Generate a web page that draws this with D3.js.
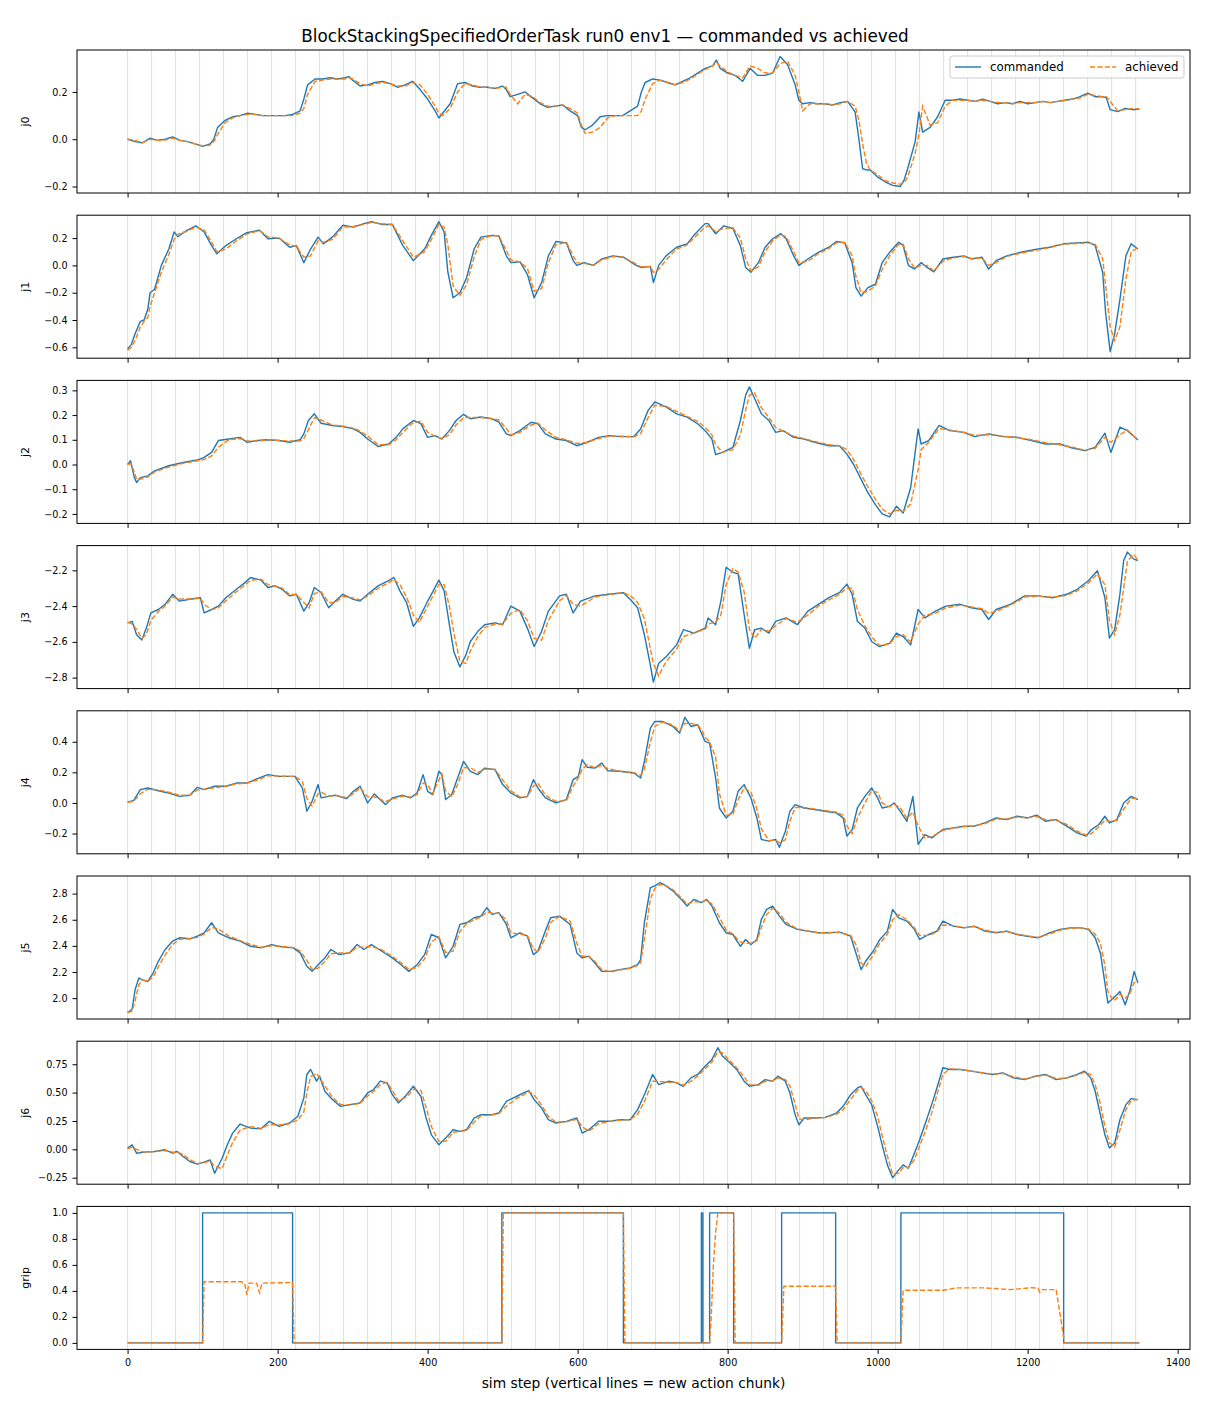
<!DOCTYPE html>
<html>
<head>
<meta charset="utf-8">
<script src="https://cdn.jsdelivr.net/npm/d3@7"></script>
<style>
  body { margin: 0; background: #fff; }
  svg { font-family: "DejaVu Sans", sans-serif; }
</style>
</head>
<body>
<svg id="chart"></svg>
<script>
// commanded vs achieved joint trajectories, one panel per joint + gripper
// values (sim step -> joint value)

const j0Steps = [0,10,20,30,40,50,60,70,80,90,
  100,110,115,120,130,140,150,160,170,180,
  190,200,210,220,230,235,240,250,260,270,
  280,290,295,300,310,320,330,340,350,360,
  370,380,390,400,410,415,420,430,440,450,
  460,470,480,490,500,505,510,520,530,540,
  550,560,570,580,590,600,605,610,620,630,
  640,650,660,670,680,685,690,700,710,720,
  730,740,750,760,770,780,785,790,800,810,
  820,830,840,850,860,870,880,890,895,900,
  910,920,930,940,950,960,970,975,980,985,
  990,1000,1010,1020,1030,1035,1040,1050,1055,1060,
  1070,1080,1090,1100,1110,1120,1130,1140,1150,1160,
  1170,1180,1190,1200,1210,1220,1230,1240,1250,1260,
  1270,1280,1290,1300,1305,1310,1320,1330,1340,1349];
const j0Cmd = [0.0,-0.01,-0.015,0.005,-0.005,0.0,0.01,-0.005,-0.01,-0.02,
  -0.03,-0.02,0.0,0.05,0.08,0.095,0.10,0.11,0.105,0.10,
  0.10,0.10,0.10,0.105,0.12,0.17,0.23,0.255,0.255,0.26,
  0.255,0.26,0.265,0.25,0.225,0.23,0.24,0.245,0.235,0.22,
  0.23,0.245,0.21,0.17,0.12,0.09,0.11,0.15,0.235,0.24,
  0.225,0.22,0.22,0.215,0.225,0.21,0.18,0.19,0.20,0.175,
  0.15,0.135,0.14,0.145,0.12,0.10,0.05,0.04,0.06,0.095,
  0.10,0.10,0.10,0.12,0.14,0.2,0.24,0.255,0.25,0.24,
  0.23,0.245,0.26,0.28,0.30,0.31,0.335,0.30,0.28,0.27,
  0.245,0.30,0.27,0.27,0.28,0.35,0.315,0.23,0.165,0.15,
  0.155,0.15,0.15,0.145,0.155,0.16,0.115,0.0,-0.125,-0.13,
  -0.13,-0.16,-0.18,-0.195,-0.2,-0.175,-0.125,-0.01,0.115,0.03,
  0.05,0.095,0.165,0.165,0.17,0.165,0.16,0.17,0.16,0.15,
  0.155,0.15,0.16,0.15,0.155,0.16,0.155,0.16,0.165,0.17,
  0.18,0.195,0.18,0.18,0.175,0.125,0.117,0.13,0.125,0.128];
const j0Ach = [0.0,-0.005,-0.015,0.0,-0.005,-0.003,0.005,-0.005,-0.01,-0.02,
  -0.028,-0.025,-0.01,0.02,0.07,0.09,0.10,0.105,0.105,0.10,
  0.10,0.10,0.10,0.10,0.11,0.13,0.19,0.245,0.25,0.255,
  0.255,0.255,0.26,0.255,0.235,0.225,0.235,0.24,0.235,0.225,
  0.225,0.24,0.23,0.19,0.14,0.11,0.10,0.13,0.2,0.235,
  0.23,0.22,0.22,0.215,0.22,0.22,0.19,0.15,0.19,0.18,
  0.155,0.14,0.14,0.145,0.13,0.11,0.06,0.025,0.03,0.05,
  0.09,0.10,0.10,0.10,0.10,0.12,0.17,0.235,0.25,0.24,
  0.23,0.24,0.255,0.275,0.295,0.31,0.325,0.31,0.285,0.27,
  0.26,0.31,0.30,0.28,0.28,0.32,0.33,0.27,0.2,0.12,
  0.15,0.15,0.15,0.145,0.15,0.16,0.14,0.08,-0.02,-0.1,
  -0.13,-0.15,-0.175,-0.185,-0.19,-0.185,-0.16,-0.06,0.02,0.14,
  0.06,0.07,0.14,0.165,0.165,0.165,0.16,0.165,0.16,0.155,
  0.155,0.15,0.155,0.155,0.155,0.16,0.155,0.16,0.165,0.17,
  0.175,0.19,0.185,0.18,0.18,0.16,0.12,0.125,0.13,0.128];

const j1Steps = [0,5,10,17,22,27,30,36,45,55,
  62,67,79,91,102,112,119,131,145,159,
  176,187,202,216,225,235,244,254,261,273,
  287,301,315,325,339,353,367,381,396,405,
  415,422,427,434,443,452,462,471,486,495,
  505,511,523,533,542,552,561,571,585,594,
  599,609,621,632,647,661,675,684,697,701,
  708,718,732,746,755,770,774,784,795,807,
  817,824,831,841,850,860,871,878,888,895,
  907,921,935,945,956,966,971,978,987,997,
  1006,1016,1028,1034,1041,1049,1058,1066,1075,1087,
  1101,1115,1125,1139,1148,1158,1172,1191,1210,1229,
  1248,1266,1281,1290,1300,1304,1310,1316,1323,1331,
  1338,1347];
const j1Cmd = [-0.61,-0.58,-0.5,-0.41,-0.4,-0.32,-0.2,-0.175,0.0,0.12,
  0.245,0.21,0.257,0.29,0.245,0.145,0.085,0.145,0.195,0.24,
  0.257,0.195,0.2,0.133,0.145,0.02,0.12,0.207,0.158,0.207,
  0.294,0.28,0.306,0.32,0.3,0.3,0.145,0.035,0.12,0.22,
  0.32,0.245,-0.05,-0.237,-0.2,-0.09,0.12,0.207,0.22,0.215,
  0.07,0.02,0.027,-0.065,-0.237,-0.126,0.07,0.175,0.165,0.035,
  0.0,0.02,0.0,0.047,0.07,0.06,0.01,-0.015,-0.007,-0.126,
  0.0,0.07,0.133,0.158,0.22,0.306,0.306,0.232,0.29,0.27,
  0.145,-0.015,-0.05,0.02,0.133,0.195,0.232,0.195,0.07,0.0,
  0.047,0.096,0.133,0.175,0.165,0.02,-0.163,-0.225,-0.163,-0.138,
  0.02,0.096,0.17,0.146,0.0,-0.027,0.02,-0.015,-0.047,0.047,
  0.06,0.07,0.047,0.06,-0.027,0.035,0.07,0.096,0.116,0.133,
  0.158,0.165,0.17,0.146,-0.05,-0.35,-0.632,-0.5,-0.25,0.07,
  0.158,0.12];
const j1Ach = [-0.62,-0.6,-0.55,-0.45,-0.41,-0.38,-0.3,-0.2,-0.05,0.08,
  0.19,0.23,0.25,0.28,0.26,0.17,0.1,0.12,0.18,0.23,
  0.255,0.21,0.2,0.15,0.14,0.06,0.07,0.18,0.17,0.19,
  0.28,0.285,0.3,0.315,0.305,0.3,0.18,0.06,0.1,0.19,
  0.3,0.28,0.15,-0.15,-0.22,-0.14,0.06,0.19,0.22,0.215,
  0.11,0.04,0.025,-0.02,-0.19,-0.17,0.02,0.15,0.17,0.07,
  0.02,0.015,0.0,0.04,0.065,0.06,0.02,-0.01,-0.01,-0.05,
  -0.03,0.04,0.12,0.15,0.2,0.28,0.29,0.25,0.27,0.275,
  0.2,0.05,-0.04,-0.01,0.1,0.18,0.225,0.21,0.1,0.02,
  0.03,0.085,0.125,0.165,0.17,0.07,-0.08,-0.2,-0.19,-0.15,
  -0.03,0.07,0.155,0.155,0.05,-0.02,0.0,0.0,-0.04,0.03,
  0.055,0.065,0.05,0.055,0.0,0.02,0.065,0.09,0.11,0.13,
  0.155,0.16,0.165,0.155,0.05,-0.15,-0.45,-0.55,-0.45,-0.1,
  0.1,0.13];

const j2Steps = [0,4,9,12,17,27,36,55,74,93,
  102,112,121,135,150,159,173,187,202,216,
  230,235,241,249,258,273,287,301,310,320,
  334,348,358,367,381,391,400,410,419,429,
  438,448,457,471,486,495,505,511,523,538,
  547,557,571,585,599,613,628,642,656,675,
  684,694,703,718,732,746,760,770,779,784,
  793,807,817,824,829,836,845,855,864,874,
  888,902,916,935,949,959,968,978,987,997,
  1006,1016,1025,1034,1044,1054,1058,1068,1082,1096,
  1115,1129,1148,1167,1186,1205,1224,1243,1257,1276,
  1290,1303,1311,1323,1333,1347];
const j2Cmd = [0.0,0.015,-0.053,-0.073,-0.053,-0.046,-0.026,-0.005,0.008,0.018,
  0.029,0.049,0.097,0.103,0.11,0.09,0.097,0.1,0.097,0.09,
  0.1,0.124,0.178,0.205,0.167,0.158,0.154,0.144,0.13,0.103,
  0.073,0.083,0.11,0.144,0.178,0.165,0.11,0.117,0.103,0.137,
  0.178,0.203,0.185,0.192,0.185,0.171,0.124,0.117,0.137,0.171,
  0.165,0.124,0.103,0.097,0.076,0.09,0.11,0.117,0.113,0.113,
  0.144,0.219,0.253,0.233,0.205,0.192,0.165,0.137,0.103,0.04,
  0.049,0.069,0.178,0.28,0.314,0.267,0.205,0.178,0.13,0.137,
  0.11,0.103,0.09,0.076,0.076,0.042,0.0,-0.06,-0.114,-0.162,
  -0.2,-0.212,-0.169,-0.196,-0.094,0.144,0.083,0.097,0.158,0.137,
  0.13,0.113,0.124,0.113,0.11,0.097,0.083,0.083,0.069,0.056,
  0.069,0.127,0.049,0.151,0.137,0.099];
const j2Ach = [0.0,0.005,-0.03,-0.06,-0.06,-0.05,-0.03,-0.01,0.005,0.015,
  0.02,0.035,0.07,0.1,0.105,0.095,0.095,0.1,0.097,0.095,
  0.095,0.105,0.14,0.19,0.18,0.16,0.155,0.147,0.135,0.115,
  0.08,0.08,0.1,0.13,0.17,0.175,0.13,0.115,0.105,0.12,
  0.16,0.19,0.19,0.19,0.185,0.18,0.145,0.12,0.13,0.16,
  0.168,0.14,0.11,0.1,0.085,0.09,0.105,0.115,0.115,0.112,
  0.125,0.19,0.24,0.235,0.215,0.195,0.175,0.15,0.12,0.08,
  0.05,0.06,0.12,0.22,0.28,0.29,0.23,0.19,0.15,0.135,
  0.115,0.105,0.093,0.08,0.076,0.06,0.02,-0.04,-0.09,-0.14,
  -0.18,-0.2,-0.185,-0.19,-0.16,-0.02,0.06,0.09,0.145,0.14,
  0.13,0.118,0.12,0.115,0.108,0.1,0.088,0.08,0.072,0.058,
  0.065,0.11,0.09,0.12,0.14,0.1];

const j3Steps = [0,6,12,19,25,31,41,50,60,69,
  83,97,102,112,121,131,145,154,164,178,
  187,197,206,216,225,235,242,249,258,268,
  277,287,301,310,320,334,348,355,363,372,
  381,389,399,405,415,422,429,435,443,451,
  457,467,476,490,500,511,523,533,542,552,
  561,576,585,594,604,623,642,661,670,680,
  689,697,701,708,718,732,741,755,770,774,
  784,791,798,807,814,822,829,836,845,855,
  864,878,893,907,921,935,949,959,966,973,
  983,992,1002,1016,1025,1034,1044,1054,1063,1077,
  1091,1110,1125,1139,1148,1158,1177,1196,1214,1233,
  1252,1266,1281,1293,1303,1309,1316,1323,1328,1333,
  1341,1347];
const j3Cmd = [-2.494,-2.485,-2.56,-2.589,-2.523,-2.438,-2.419,-2.39,-2.334,-2.372,
  -2.362,-2.353,-2.438,-2.419,-2.4,-2.353,-2.306,-2.277,-2.24,-2.255,
  -2.296,-2.287,-2.306,-2.343,-2.334,-2.428,-2.381,-2.296,-2.325,-2.409,
  -2.372,-2.334,-2.362,-2.372,-2.334,-2.287,-2.258,-2.24,-2.315,-2.381,
  -2.513,-2.466,-2.381,-2.334,-2.255,-2.315,-2.504,-2.655,-2.74,-2.674,
  -2.598,-2.541,-2.504,-2.494,-2.504,-2.4,-2.428,-2.523,-2.626,-2.541,
  -2.428,-2.343,-2.334,-2.438,-2.372,-2.343,-2.334,-2.325,-2.362,-2.409,
  -2.56,-2.73,-2.825,-2.72,-2.683,-2.617,-2.532,-2.551,-2.523,-2.466,
  -2.504,-2.372,-2.183,-2.211,-2.22,-2.447,-2.636,-2.532,-2.523,-2.551,
  -2.485,-2.466,-2.504,-2.428,-2.39,-2.353,-2.325,-2.277,-2.334,-2.485,
  -2.523,-2.598,-2.626,-2.608,-2.551,-2.57,-2.617,-2.419,-2.466,-2.428,
  -2.4,-2.39,-2.409,-2.419,-2.475,-2.419,-2.39,-2.343,-2.343,-2.353,
  -2.334,-2.306,-2.258,-2.202,-2.353,-2.579,-2.532,-2.334,-2.145,-2.098,
  -2.136,-2.145];
const j3Ach = [-2.49,-2.5,-2.53,-2.58,-2.56,-2.48,-2.43,-2.4,-2.35,-2.36,
  -2.36,-2.355,-2.39,-2.42,-2.41,-2.37,-2.32,-2.29,-2.255,-2.25,
  -2.28,-2.29,-2.3,-2.335,-2.335,-2.38,-2.41,-2.33,-2.32,-2.38,
  -2.38,-2.345,-2.355,-2.365,-2.345,-2.3,-2.27,-2.25,-2.28,-2.35,
  -2.45,-2.49,-2.41,-2.36,-2.28,-2.28,-2.4,-2.55,-2.71,-2.72,
  -2.65,-2.57,-2.52,-2.5,-2.5,-2.44,-2.42,-2.48,-2.58,-2.59,
  -2.48,-2.37,-2.34,-2.39,-2.4,-2.35,-2.335,-2.325,-2.34,-2.38,
  -2.47,-2.64,-2.72,-2.79,-2.71,-2.64,-2.57,-2.55,-2.53,-2.5,
  -2.49,-2.45,-2.28,-2.19,-2.21,-2.32,-2.53,-2.58,-2.53,-2.54,
  -2.51,-2.47,-2.49,-2.45,-2.4,-2.365,-2.335,-2.3,-2.3,-2.42,
  -2.51,-2.57,-2.62,-2.61,-2.57,-2.56,-2.6,-2.5,-2.45,-2.44,
  -2.41,-2.395,-2.405,-2.415,-2.44,-2.43,-2.395,-2.35,-2.345,-2.35,
  -2.34,-2.315,-2.27,-2.22,-2.28,-2.48,-2.56,-2.45,-2.3,-2.15,
  -2.11,-2.14];

const j4Steps = [0,8,17,27,41,55,69,83,93,102,
  116,131,145,159,173,187,202,216,223,233,
  239,246,254,258,268,277,292,301,310,320,
  329,344,353,367,377,386,394,400,407,415,
  419,424,432,440,448,457,467,476,490,500,
  511,523,533,541,547,557,571,585,594,601,
  606,613,623,632,640,656,675,684,689,697,
  703,713,727,736,743,751,760,765,770,776,
  784,789,798,807,814,822,831,839,845,855,
  864,869,877,883,890,902,916,930,945,954,
  959,966,973,983,992,1000,1006,1016,1022,1030,
  1039,1047,1054,1063,1072,1087,1101,1115,1129,1143,
  1158,1172,1186,1200,1212,1224,1238,1252,1266,1278,
  1285,1295,1303,1309,1319,1328,1338,1347];
const j4Cmd = [0.007,0.015,0.087,0.098,0.08,0.065,0.043,0.05,0.102,0.087,
  0.109,0.109,0.13,0.13,0.159,0.185,0.174,0.174,0.174,0.098,
  -0.054,0.011,0.12,0.033,0.043,0.05,0.028,0.076,0.109,0.0,
  0.059,-0.011,0.033,0.05,0.033,0.065,0.185,0.076,0.054,0.207,
  0.185,0.022,0.054,0.163,0.272,0.207,0.185,0.228,0.217,0.12,
  0.065,0.033,0.043,0.152,0.098,0.033,0.0,0.022,0.152,0.174,
  0.283,0.233,0.228,0.261,0.211,0.207,0.196,0.163,0.272,0.489,
  0.533,0.533,0.5,0.457,0.56,0.5,0.511,0.457,0.402,0.391,
  0.163,-0.033,-0.098,-0.054,0.076,0.12,0.033,-0.098,-0.239,-0.25,
  -0.239,-0.29,-0.185,-0.054,-0.011,-0.033,-0.043,-0.054,-0.065,-0.098,
  -0.217,-0.174,-0.033,0.043,0.098,0.033,-0.033,-0.022,0.0,-0.054,
  -0.12,0.043,-0.27,-0.207,-0.228,-0.174,-0.163,-0.152,-0.152,-0.13,
  -0.098,-0.109,-0.087,-0.098,-0.08,-0.12,-0.109,-0.152,-0.196,-0.217,
  -0.174,-0.141,-0.087,-0.13,-0.109,0.0,0.043,0.022];
const j4Ach = [0.005,0.01,0.06,0.09,0.085,0.07,0.05,0.05,0.085,0.09,
  0.1,0.108,0.125,0.13,0.15,0.178,0.176,0.174,0.174,0.14,
  0.03,-0.02,0.06,0.07,0.045,0.05,0.035,0.06,0.1,0.04,
  0.04,0.01,0.025,0.045,0.038,0.055,0.13,0.12,0.06,0.15,
  0.19,0.08,0.04,0.12,0.23,0.23,0.2,0.22,0.22,0.15,
  0.08,0.04,0.04,0.11,0.13,0.05,0.01,0.015,0.11,0.165,
  0.22,0.25,0.23,0.245,0.225,0.208,0.198,0.18,0.22,0.4,
  0.5,0.53,0.51,0.47,0.52,0.52,0.51,0.48,0.43,0.4,
  0.3,0.06,-0.08,-0.075,0.02,0.1,0.07,-0.04,-0.17,-0.245,
  -0.245,-0.26,-0.24,-0.12,-0.03,-0.03,-0.04,-0.05,-0.06,-0.08,
  -0.15,-0.2,-0.1,0.0,0.08,0.07,0.0,-0.025,-0.01,-0.03,
  -0.1,-0.06,-0.15,-0.23,-0.22,-0.18,-0.165,-0.155,-0.15,-0.135,
  -0.105,-0.105,-0.092,-0.097,-0.088,-0.11,-0.113,-0.14,-0.185,-0.21,
  -0.2,-0.155,-0.115,-0.12,-0.115,-0.04,0.03,0.03];

const j5Steps = [0,6,10,15,19,27,34,41,50,60,
  69,83,93,102,112,121,135,150,164,178,
  192,206,221,230,239,246,254,263,271,282,
  296,306,315,325,339,353,367,375,386,396,
  405,415,424,434,443,452,462,471,479,486,
  495,505,511,523,533,541,547,557,564,576,
  590,599,606,615,623,632,644,656,670,680,
  684,689,697,703,710,718,727,736,746,755,
  765,772,779,789,798,807,817,824,831,839,
  845,852,860,869,878,893,907,921,935,949,
  964,971,978,984,994,1003,1013,1020,1028,1039,
  1049,1056,1068,1079,1087,1101,1115,1129,1143,1158,
  1172,1186,1200,1214,1229,1243,1257,1271,1281,1290,
  1297,1303,1307,1314,1319,1323,1330,1336,1342,1347];
const j5Cmd = [1.89,1.915,2.064,2.154,2.141,2.128,2.192,2.282,2.372,2.436,
  2.462,2.454,2.474,2.5,2.577,2.5,2.462,2.436,2.397,2.385,
  2.41,2.392,2.385,2.346,2.244,2.205,2.256,2.308,2.372,2.333,
  2.346,2.41,2.372,2.41,2.359,2.308,2.244,2.205,2.256,2.333,
  2.487,2.462,2.308,2.397,2.564,2.577,2.615,2.628,2.692,2.641,
  2.654,2.564,2.462,2.5,2.474,2.333,2.359,2.513,2.615,2.628,
  2.564,2.346,2.308,2.321,2.269,2.205,2.205,2.218,2.231,2.256,
  2.295,2.577,2.846,2.859,2.885,2.859,2.821,2.769,2.705,2.756,
  2.731,2.756,2.705,2.577,2.5,2.487,2.397,2.449,2.41,2.449,
  2.603,2.679,2.705,2.628,2.564,2.526,2.513,2.5,2.5,2.505,
  2.474,2.346,2.218,2.282,2.359,2.449,2.513,2.679,2.615,2.59,
  2.526,2.449,2.487,2.513,2.59,2.551,2.538,2.551,2.513,2.5,
  2.513,2.487,2.474,2.462,2.5,2.526,2.538,2.538,2.526,2.462,
  2.346,2.115,1.962,2.0,2.026,2.051,1.949,2.051,2.205,2.115];
const j5Ach = [1.89,1.9,1.98,2.1,2.14,2.13,2.16,2.24,2.33,2.41,
  2.45,2.455,2.465,2.49,2.54,2.53,2.475,2.44,2.41,2.39,
  2.4,2.395,2.388,2.36,2.29,2.22,2.23,2.28,2.34,2.345,
  2.345,2.39,2.39,2.395,2.37,2.32,2.26,2.22,2.235,2.3,
  2.43,2.47,2.35,2.36,2.51,2.57,2.6,2.62,2.66,2.65,
  2.65,2.6,2.5,2.49,2.48,2.38,2.35,2.46,2.58,2.625,
  2.59,2.42,2.32,2.32,2.28,2.22,2.2,2.215,2.228,2.25,
  2.27,2.45,2.76,2.84,2.87,2.86,2.83,2.78,2.72,2.74,
  2.735,2.75,2.72,2.62,2.52,2.49,2.43,2.42,2.42,2.44,
  2.54,2.64,2.69,2.65,2.58,2.53,2.515,2.5,2.5,2.503,
  2.48,2.41,2.27,2.24,2.33,2.42,2.49,2.6,2.64,2.6,
  2.54,2.48,2.48,2.505,2.56,2.555,2.54,2.548,2.52,2.503,
  2.51,2.49,2.476,2.465,2.49,2.52,2.535,2.537,2.53,2.49,
  2.42,2.25,2.05,1.98,2.0,2.03,2.0,2.03,2.12,2.12];

const j6Steps = [0,6,12,22,36,50,60,66,74,83,
  93,102,110,116,126,133,140,150,164,178,
  189,202,216,227,235,239,244,252,256,263,
  273,284,296,310,320,328,337,346,353,361,
  372,381,391,398,405,415,424,434,443,452,
  462,471,486,495,505,519,528,535,542,552,
  561,571,585,599,606,615,628,642,656,670,
  680,689,700,708,722,732,741,751,760,770,
  779,787,793,803,812,822,829,841,850,860,
  867,877,883,890,895,902,916,930,945,954,
  964,973,978,984,992,1000,1006,1013,1020,1028,
  1034,1041,1049,1056,1063,1072,1079,1087,1096,1110,
  1125,1139,1153,1167,1181,1196,1210,1224,1238,1252,
  1266,1276,1284,1290,1297,1303,1309,1316,1323,1331,
  1338,1347];
const j6Cmd = [0.011,0.04,-0.034,-0.025,-0.019,-0.004,-0.034,-0.019,-0.063,-0.107,
  -0.131,-0.113,-0.093,-0.211,-0.078,0.04,0.143,0.223,0.187,0.181,
  0.247,0.202,0.232,0.291,0.453,0.66,0.704,0.601,0.645,0.512,
  0.439,0.379,0.394,0.409,0.497,0.527,0.601,0.586,0.482,0.409,
  0.482,0.556,0.468,0.276,0.128,0.04,0.099,0.173,0.158,0.173,
  0.276,0.305,0.305,0.32,0.423,0.468,0.497,0.518,0.438,0.364,
  0.261,0.232,0.247,0.276,0.143,0.173,0.247,0.247,0.261,0.261,
  0.35,0.482,0.66,0.571,0.601,0.586,0.556,0.63,0.66,0.733,
  0.792,0.896,0.822,0.763,0.704,0.601,0.556,0.571,0.615,0.601,
  0.645,0.601,0.497,0.305,0.217,0.276,0.276,0.282,0.32,0.379,
  0.482,0.541,0.556,0.482,0.394,0.202,0.04,-0.137,-0.25,-0.181,
  -0.137,-0.167,-0.034,0.084,0.217,0.394,0.541,0.719,0.704,0.704,
  0.689,0.674,0.66,0.674,0.63,0.615,0.645,0.66,0.615,0.63,
  0.66,0.689,0.63,0.512,0.305,0.128,0.011,0.055,0.261,0.394,
  0.447,0.438];
const j6Ach = [0.005,0.02,0.0,-0.025,-0.02,-0.01,-0.025,-0.025,-0.045,-0.09,
  -0.125,-0.12,-0.1,-0.15,-0.17,-0.05,0.06,0.17,0.2,0.185,
  0.22,0.215,0.225,0.26,0.33,0.5,0.64,0.67,0.63,0.56,
  0.46,0.395,0.39,0.405,0.47,0.51,0.57,0.59,0.52,0.43,
  0.46,0.53,0.52,0.37,0.2,0.07,0.07,0.15,0.16,0.165,
  0.24,0.295,0.305,0.315,0.38,0.45,0.48,0.51,0.48,0.39,
  0.29,0.24,0.243,0.265,0.2,0.16,0.225,0.245,0.258,0.262,
  0.31,0.42,0.6,0.6,0.59,0.59,0.565,0.6,0.645,0.71,
  0.77,0.86,0.85,0.78,0.72,0.64,0.57,0.565,0.6,0.605,
  0.63,0.615,0.56,0.4,0.27,0.26,0.275,0.28,0.31,0.35,
  0.44,0.52,0.545,0.52,0.43,0.29,0.12,-0.06,-0.22,-0.21,
  -0.16,-0.16,-0.09,0.03,0.15,0.32,0.48,0.66,0.71,0.705,
  0.69,0.676,0.662,0.67,0.64,0.62,0.64,0.655,0.625,0.628,
  0.655,0.68,0.66,0.57,0.4,0.2,0.06,0.02,0.17,0.35,
  0.43,0.44];

// gripper: commanded is a 0/1 signal (held until the next change)
const gripCmdSteps = [0,100,220,499,661,765,767,776,808,872,944,1031,1248,1349];
const gripCmd      = [0,1,0,1,0,1,0,1,0,1,0,1,0,0];
const gripAchSteps = [0,100,102,152,156,159,162,165,172,176,
  179,183,220,222,499,501,661,663,776,778,
  781,784,787,808,810,872,875,944,946,1031,
  1034,1087,1105,1143,1177,1205,1214,1216,1220,1238,
  1243,1249,1349];
const gripAch = [0,0,0.47,0.47,0.46,0.37,0.46,0.46,0.46,0.385,
  0.46,0.46,0.465,0,0,1,1,0,0,0.18,
  0.6,0.85,1,1,0,0,0.436,0.436,0,0,
  0.405,0.405,0.423,0.423,0.41,0.425,0.42,0.39,0.41,0.41,
  0.23,0,0];

// first step of each action chunk
const chunkStarts = [0,32,64,96,128,160,192,224,256,288,320,352,384,416,448,
  480,512,544,576,608,640,672,704,736,768,800,832,864,896,928,960,992,1024,
  1056,1088,1120,1152,1184,1216,1248,1280,1312,1344];

const xTicks = [0,200,400,600,800,1000,1200,1400];
const j0Ticks = [-0.2,0.0,0.2];
const j1Ticks = [-0.6,-0.4,-0.2,0.0,0.2];
const j2Ticks = [-0.2,-0.1,0.0,0.1,0.2,0.3];
const j3Ticks = [-2.8,-2.6,-2.4,-2.2];
const j4Ticks = [-0.2,0.0,0.2,0.4];
const j5Ticks = [2.0,2.2,2.4,2.6,2.8];
const j6Ticks = [-0.25,0.0,0.25,0.50,0.75];
const gripTicks = [0.0,0.2,0.4,0.6,0.8,1.0];

const panels = [
  { label: "j0", cmdSteps: j0Steps, cmd: j0Cmd, achSteps: j0Steps, ach: j0Ach, ticks: j0Ticks, fmt: ".1f" },
  { label: "j1", cmdSteps: j1Steps, cmd: j1Cmd, achSteps: j1Steps, ach: j1Ach, ticks: j1Ticks, fmt: ".1f" },
  { label: "j2", cmdSteps: j2Steps, cmd: j2Cmd, achSteps: j2Steps, ach: j2Ach, ticks: j2Ticks, fmt: ".1f" },
  { label: "j3", cmdSteps: j3Steps, cmd: j3Cmd, achSteps: j3Steps, ach: j3Ach, ticks: j3Ticks, fmt: ".1f" },
  { label: "j4", cmdSteps: j4Steps, cmd: j4Cmd, achSteps: j4Steps, ach: j4Ach, ticks: j4Ticks, fmt: ".1f" },
  { label: "j5", cmdSteps: j5Steps, cmd: j5Cmd, achSteps: j5Steps, ach: j5Ach, ticks: j5Ticks, fmt: ".1f" },
  { label: "j6", cmdSteps: j6Steps, cmd: j6Cmd, achSteps: j6Steps, ach: j6Ach, ticks: j6Ticks, fmt: ".2f" },
  { label: "grip", cmdSteps: gripCmdSteps, cmd: gripCmd, achSteps: gripAchSteps, ach: gripAch, ticks: gripTicks, fmt: ".1f", stepped: true }
];

const width = 1210, height = 1408;
const marginLeft = 77, marginRight = 20;
const panelTop = 50, panelH = 143, panelGap = 165.2;

const svg = d3.select("#chart")
  .attr("width", width)
  .attr("height", height);

// shared x scale, padded 5% like matplotlib autoscale
const allSteps = panels.flatMap(p => p.cmdSteps.concat(p.achSteps));
const [sMin, sMax] = d3.extent(allSteps);
const sPad = (sMax - sMin) * 0.05;
const x = d3.scaleLinear()
  .domain([sMin - sPad, sMax + sPad])
  .range([marginLeft, width - marginRight]);

panels.forEach((p, i) => {
  const y0 = panelTop + i * panelGap;
  const g = svg.append("g");

  const [vMin, vMax] = d3.extent(p.cmd.concat(p.ach));
  const vPad = (vMax - vMin) * 0.05;
  const y = d3.scaleLinear()
    .domain([vMin - vPad, vMax + vPad])
    .range([y0 + panelH, y0]);

  // vertical lines = new action chunk
  g.append("g")
    .selectAll("line")
    .data(chunkStarts)
    .join("line")
    .attr("x1", d => x(d)).attr("x2", d => x(d))
    .attr("y1", y0).attr("y2", y0 + panelH)
    .attr("stroke", "#000")
    .attr("stroke-opacity", 0.15)
    .attr("stroke-width", 0.9);

  const line = d3.line()
    .x(d => x(d[0]))
    .y(d => y(d[1]))
    .curve(p.stepped ? d3.curveStepAfter : d3.curveLinear);

  g.append("path")
    .datum(p.cmdSteps.map((s, k) => [s, p.cmd[k]]))
    .attr("d", line)
    .attr("fill", "none")
    .attr("stroke", "#1f77b4")
    .attr("stroke-width", 1.4)
    .attr("stroke-linejoin", "round");

  const achLine = d3.line()
    .x(d => x(d[0]))
    .y(d => y(d[1]));

  g.append("path")
    .datum(p.achSteps.map((s, k) => [s, p.ach[k]]))
    .attr("d", achLine)
    .attr("fill", "none")
    .attr("stroke", "#ff7f0e")
    .attr("stroke-width", 1.4)
    .attr("stroke-dasharray", "5.2,2.2");

  // y axis
  const yAxis = g.append("g")
    .attr("transform", `translate(${marginLeft},0)`)
    .call(d3.axisLeft(y).tickValues(p.ticks).tickFormat(d3.format(p.fmt)).tickSize(4.5).tickPadding(5));
  yAxis.select(".domain").remove();
  yAxis.selectAll("text").attr("font-size", "9.6px").attr("fill", "#000").attr("font-family", "DejaVu Sans");
  yAxis.selectAll("line").attr("stroke", "#000").attr("stroke-width", 1);

  // x axis, labels only on the bottom panel
  const last = i === panels.length - 1;
  const xAxis = g.append("g")
    .attr("transform", `translate(0,${y0 + panelH})`)
    .call(d3.axisBottom(x).tickValues(xTicks).tickFormat(last ? d3.format("d") : () => "").tickSize(4.5).tickPadding(5));
  xAxis.select(".domain").remove();
  xAxis.selectAll("text").attr("font-size", "9.6px").attr("fill", "#000").attr("font-family", "DejaVu Sans");
  xAxis.selectAll("line").attr("stroke", "#000").attr("stroke-width", 1);

  // frame
  g.append("rect")
    .attr("x", marginLeft).attr("y", y0)
    .attr("width", width - marginRight - marginLeft).attr("height", panelH)
    .attr("fill", "none")
    .attr("stroke", "#000")
    .attr("stroke-width", 1);

  // y label
  g.append("text")
    .attr("transform", `translate(29,${y0 + panelH / 2}) rotate(-90)`)
    .attr("text-anchor", "middle")
    .attr("font-size", "11px")
    .text(p.label);
});

// legend in the top panel
const legend = svg.append("g");
legend.append("rect")
  .attr("x", 950).attr("y", 56).attr("width", 234).attr("height", 22)
  .attr("rx", 2.5)
  .attr("fill", "#fff").attr("fill-opacity", 0.8)
  .attr("stroke", "#cccccc").attr("stroke-width", 1);
legend.append("line")
  .attr("x1", 955).attr("x2", 981).attr("y1", 67).attr("y2", 67)
  .attr("stroke", "#1f77b4").attr("stroke-width", 1.4);
legend.append("text")
  .attr("x", 990).attr("y", 71)
  .attr("font-size", "11.8px")
  .text("commanded");
legend.append("line")
  .attr("x1", 1090).attr("x2", 1116).attr("y1", 67).attr("y2", 67)
  .attr("stroke", "#ff7f0e").attr("stroke-width", 1.4)
  .attr("stroke-dasharray", "5.2,2.2");
legend.append("text")
  .attr("x", 1125).attr("y", 71)
  .attr("font-size", "11.8px")
  .text("achieved");

// title
svg.append("text")
  .attr("x", width / 2)
  .attr("y", 42)
  .attr("text-anchor", "middle")
  .attr("font-size", "16.8px")
  .text("BlockStackingSpecifiedOrderTask run0 env1 — commanded vs achieved");

// x axis label
svg.append("text")
  .attr("x", (marginLeft + width - marginRight) / 2)
  .attr("y", 1388)
  .attr("text-anchor", "middle")
  .attr("font-size", "13.8px")
  .text("sim step (vertical lines = new action chunk)");
</script>
</body>
</html>
